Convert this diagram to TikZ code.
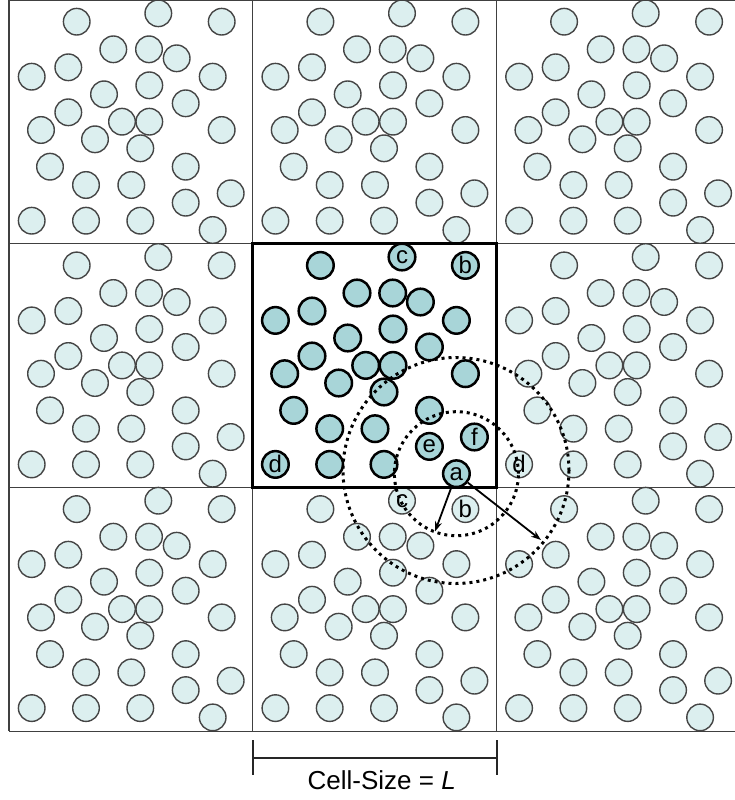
\documentclass[tikz,border=0pt]{standalone}
\usepackage{fontspec}
\setmainfont{Liberation Sans}
\usetikzlibrary{arrows.meta}
\definecolor{lightp}{HTML}{DCEFEF}
\definecolor{darkp}{HTML}{A8D5D8}
\definecolor{edgegray}{HTML}{454545}
\begin{document}
\begin{tikzpicture}[x=1pt,y=-1pt,
  part/.style={circle, minimum size=26.6pt, inner sep=0pt, draw=edgegray, fill=lightp, line width=1.4pt},
  cpart/.style={part, draw=black, fill=darkp, line width=2.5pt},
  lbl/.style={font=\fontsize{24}{24}\selectfont, inner sep=0pt},
  gridline/.style={draw=black!75, line width=1.1pt},
  dotcirc/.style={draw=black, line width=3pt, dash pattern=on 3pt off 4pt},
  arr/.style={draw=black, line width=1.8pt, -{Stealth[length=10pt,width=7pt]}},
  brack/.style={draw=black!85, line width=1.8pt}]
\useasboundingbox (0,0) rectangle (735,800);
\def\plist{67.7/21.7, 149.3/13.3, 212.7/21.7, 104.3/49.3, 140/49.3, 167.7/58.3, 59.3/67.3, 22.7/76.7, 203.7/76.7, 140.3/85.3, 95/94.3, 176.7/103.3, 59.3/112.3, 113/121.7, 140.3/121.7, 32/130, 212.7/130, 86/139.3, 131.3/148.3, 41/166.7, 176.7/166.7, 77/185, 122.3/185, 221.7/193.3, 176.7/202.7, 22.7/220.7, 77/220.7, 131.3/220.7, 203.7/230}
% outer cells
\foreach \cx/\cy/\cn in {9/0/0, 252.7/0/1, 496.4/0/2, 9/243.7/3, 496.4/243.7/5, 9/487.4/6, 252.7/487.4/7, 496.4/487.4/8}{
  \foreach \px/\py [count=\k] in \plist
    \node[part] (p\cn-\k) at (\cx+\px,\cy+\py) {};
}
% grid lines
\draw[gridline] (9,0.6) -- (735,0.6);
\draw[gridline] (9,243.7) -- (735,243.7);
\draw[gridline] (9,487.4) -- (735,487.4);
\draw[gridline] (9,731.1) -- (735,731.1);
\draw[gridline] (9,0) -- (9,731.1);
\draw[gridline] (252.7,0) -- (252.7,731.1);
\draw[gridline] (496.4,0) -- (496.4,731.1);
% central cell
\foreach \px/\py [count=\k] in \plist
  \node[cpart] (p4-\k) at (252.7+\px,243.7+\py) {};
\draw[draw=black, line width=2.8pt] (252.7,243.7) rectangle (496.4,487.4);
% labels
\node[lbl] (la) at (p4-29) {a};
\node[lbl] (lb) at (p4-3) {b};
\node[lbl] (lc) at (p4-2) {c};
\node[lbl] (ld) at (p4-26) {d};
\node[lbl] (le) at (p4-25) {e};
\node[lbl] (lf) at (p4-24) {f};
\node[lbl] (lb2) at (p7-3) {b};
\node[lbl] (lc2) at (p7-2) {c};
\node[lbl] (ld2) at (p5-26) {d};
% cut-off circles
\coordinate (oc) at (456,470.5);
\draw[dotcirc] (p4-29.center) circle[radius=62pt];
\draw[dotcirc] (oc) circle[radius=113pt];
% arrows
\coordinate (t1) at (435,531.5);
\coordinate (t2) at (541,540);
\draw[arr] (p4-29) -- (t1);
\draw[arr] (p4-29) -- (t2);
% bracket
\coordinate (bl1) at (253.3,740);
\coordinate (bl2) at (253.3,775);
\coordinate (br1) at (496.7,740);
\coordinate (br2) at (496.7,775);
\coordinate (bml) at (253.3,758.3);
\coordinate (bmr) at (496.7,758.3);
\draw[brack] (bl1) -- (bl2);
\draw[brack] (br1) -- (br2);
\draw[brack] (bml) -- (bmr);
\node[font=\fontsize{26}{26}\selectfont, inner sep=0pt, anchor=base] (cap) at (381.7,789.3) {Cell-Size = \textit{L}};
\end{tikzpicture}
\end{document}
